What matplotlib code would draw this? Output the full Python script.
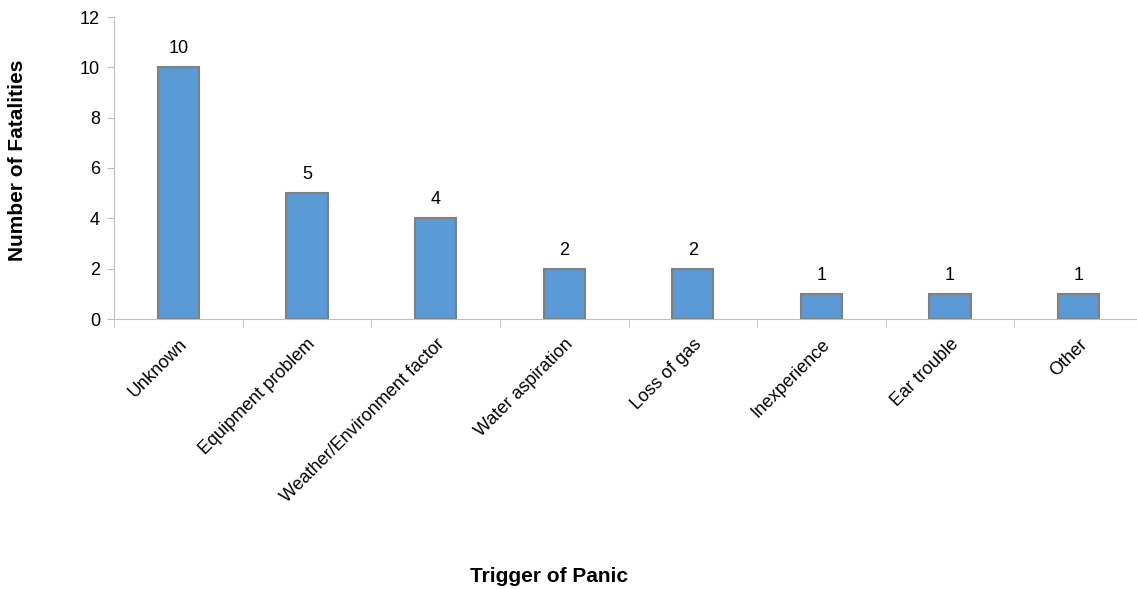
import matplotlib
matplotlib.use("Agg")
import matplotlib.pyplot as plt
import numpy as np

plt.rcParams['font.family'] = ['Liberation Sans', 'DejaVu Sans']

triggers = ["Unknown", "Equipment problem", "Weather/Environment factor", "Water aspiration",
            "Loss of gas", "Inexperience", "Ear trouble", "Other"]
fatalities = [10, 5, 4, 2, 2, 1, 1, 1]
y_ticks = [0, 2, 4, 6, 8, 10, 12]

W, H = 1137, 589
fig = plt.figure(figsize=(W / 100, H / 100), dpi=100)
# axis runs off the right edge in the original
ax = fig.add_axes([114 / W, (H - 319) / H, (1143 - 114) / W, 302 / H])

x = np.arange(len(triggers))
bars = ax.bar(x, fatalities, width=0.32, color="#5B9BD5", edgecolor="#808080", linewidth=1.5, zorder=3)

for xi, v in zip(x, fatalities):
    ax.text(xi, v + 0.4, str(v), ha="center", va="bottom", fontsize=13)

ax.set_xlim(-0.5, len(triggers) - 0.5)
ax.set_ylim(0, 12)
ax.set_yticks(y_ticks)
ax.tick_params(axis="y", labelsize=13, length=5, color="#BFBFBF", pad=5)

# category labels at centers, tick marks at boundaries
ax.set_xticks(x)
ax.set_xticklabels(triggers, rotation=45, ha="right", rotation_mode="anchor", fontsize=13)
ax.tick_params(axis="x", which="major", length=0, pad=12)
ax.set_xticks(np.arange(len(triggers) + 1) - 0.5, minor=True)
ax.tick_params(axis="x", which="minor", length=6, color="#BFBFBF")

for side in ["top", "right"]:
    ax.spines[side].set_visible(False)
for side in ["left", "bottom"]:
    ax.spines[side].set_color("#BFBFBF")

fig.text(18 / W, (H - 160) / H, "Number of Fatalities", rotation=90, ha="center", va="center",
         fontsize=15, fontweight="bold")
fig.text(549 / W, (H - 576) / H, "Trigger of Panic", ha="center", va="center",
         fontsize=15, fontweight="bold")

fig.savefig("out.png", dpi=100)
